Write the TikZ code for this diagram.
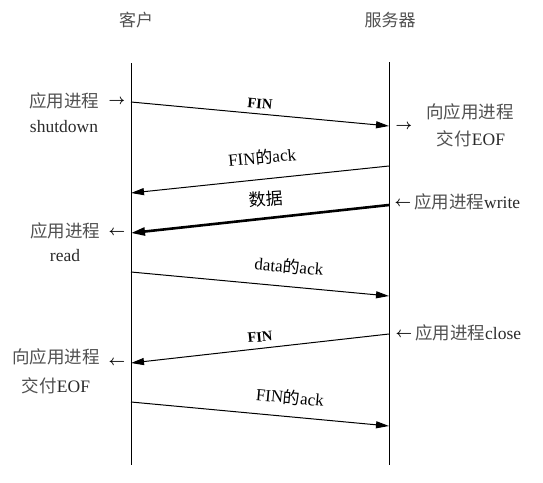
\documentclass[tikz,border=0pt]{standalone}
\usepackage{fontspec}
\setmainfont{Liberation Serif}
\newfontfamily\cjk{Noto Sans CJK SC}
\usetikzlibrary{arrows.meta}
\definecolor{cntext}{HTML}{505050}
\definecolor{entext}{HTML}{2A2A2A}
\begin{document}
\begin{tikzpicture}[x=1pt,y=-1pt,
  lifeline/.style={line width=1pt},
  msg/.style={line width=1pt,-{Triangle[length=13pt,width=7pt]}},
  bigmsg/.style={line width=2.6pt,-{Triangle[length=14pt,width=8pt]}},
  side/.style={font=\fontsize{17.5}{20}\selectfont, inner sep=0pt, text=entext},
  head/.style={font=\fontsize{17}{19}\selectfont\cjk, inner sep=0pt, text=cntext},
  mlbl/.style={font=\fontsize{17}{19}\selectfont, inner sep=0pt},
  finlbl/.style={font=\fontsize{14.5}{16}\selectfont\bfseries, inner sep=0pt},
  sarrow/.style={font=\fontsize{14}{16}\selectfont\boldmath, inner sep=0pt}
  ]
\useasboundingbox (0,0) rectangle (543,482);

% headers
\node[head] (client) at (136,20) {客户};
\node[head] (server) at (390,20) {服务器};

% lifelines
\coordinate (ctop) at (131,63);
\coordinate (cbot) at (131,465);
\coordinate (stop) at (389,62);
\coordinate (sbot) at (389,465);
\draw[lifeline] (ctop) -- (cbot);
\draw[lifeline] (stop) -- (sbot);

% message endpoints
\coordinate (m1a) at (131,102);  \coordinate (m1b) at (389,126);
\coordinate (m2a) at (389,166);  \coordinate (m2b) at (131,193);
\coordinate (m3a) at (389,205);  \coordinate (m3b) at (131,233);
\coordinate (m4a) at (131,272);  \coordinate (m4b) at (389,296);
\coordinate (m5a) at (389,334);  \coordinate (m5b) at (131,363);
\coordinate (m6a) at (131,402);  \coordinate (m6b) at (389,426);

\draw[msg] (m1a) -- (m1b);
\draw[msg] (m2a) -- (m2b);
\draw[bigmsg] (m3a) -- (m3b);
\draw[msg] (m4a) -- (m4b);
\draw[msg] (m5a) -- (m5b);
\draw[msg] (m6a) -- (m6b);

% message labels
\node[finlbl, rotate=-5] (l1) at (260,104) {FIN};
\node[mlbl, rotate=5.5] (l2) at (262,157) {FIN{\cjk 的}ack};
\node[mlbl, rotate=4] (l3) at (266,199) {{\cjk 数据}};
\node[mlbl, rotate=-5] (l4) at (289,266) {data{\cjk 的}ack};
\node[finlbl, rotate=5.5] (l5) at (260,337) {FIN};
\node[mlbl, rotate=-5] (l6) at (290,397) {FIN{\cjk 的}ack};

% left side labels
\node[side] (sd1) at (64,101) {{\cjk\color{cntext}应用进程}};
\node[sarrow] (sa1) at (117,102) {$\rightarrow$};
\node[side] (sd2) at (64,127) {shutdown};

\node[side] (rd1) at (65,231) {{\cjk\color{cntext}应用进程}};
\node[sarrow] (ra1) at (117,233) {$\leftarrow$};
\node[side] (rd2) at (65,256) {read};

\node[side] (eo1) at (56,357) {{\cjk\color{cntext}向应用进程}};
\node[sarrow] (ea1) at (117,363) {$\leftarrow$};
\node[side] (eo2) at (56,386) {{\cjk\color{cntext}交付}EOF};

% right side labels
\node[sarrow] (sa2) at (404,127) {$\rightarrow$};
\node[side] (se1) at (470,112) {{\cjk\color{cntext}向应用进程}};
\node[side] (se2) at (471,139) {{\cjk\color{cntext}交付}EOF};

\node[sarrow] (wa) at (403,204) {$\leftarrow$};
\node[side, anchor=west] (wr) at (414,202) {{\cjk\color{cntext}应用进程}write};

\node[sarrow] (ca) at (404,335) {$\leftarrow$};
\node[side, anchor=west] (cl) at (415,333) {{\cjk\color{cntext}应用进程}close};
\end{tikzpicture}
\end{document}
